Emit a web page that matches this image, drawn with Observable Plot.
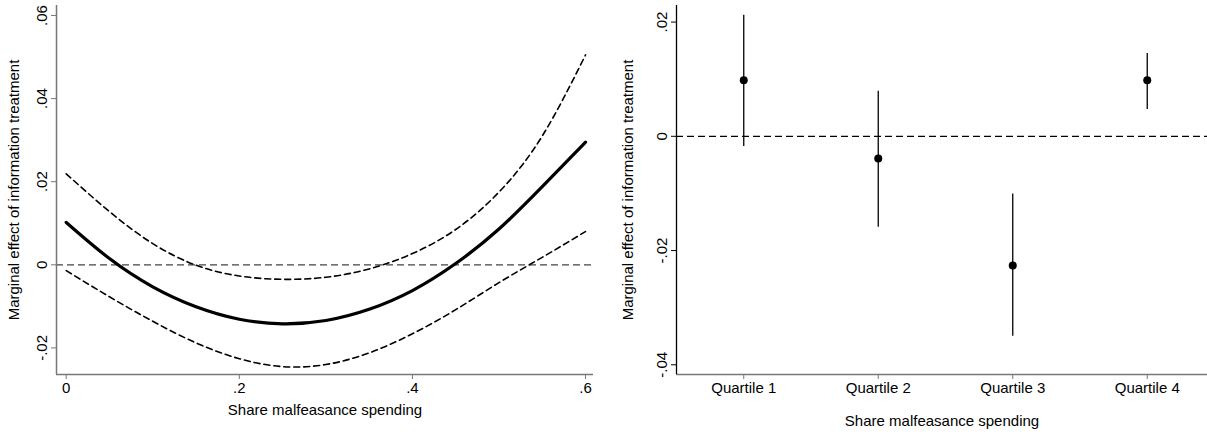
<!DOCTYPE html>
<html>
<head>
<meta charset="utf-8">
<script src="https://cdn.jsdelivr.net/npm/d3@7"></script>
<script src="https://cdn.jsdelivr.net/npm/@observablehq/plot@0.6"></script>
<style>
  html, body { margin: 0; padding: 0; background: #fff; overflow: hidden; }
  #wrap { position: relative; width: 1207px; height: 434px; }
  #left { position: absolute; left: 0; top: 0; }
  #right { position: absolute; left: 600px; top: 0; }
  svg { font-family: "Liberation Sans", Arial, sans-serif; }
</style>
</head>
<body>
<div id="wrap"><div id="left"></div><div id="right"></div></div>
<script>
// ---- Left panel data: marginal effect along share of malfeasance spending
const shareX   = [0, 0.05, 0.1, 0.15, 0.2, 0.25, 0.3, 0.35, 0.4, 0.45, 0.5, 0.55, 0.6];
const estimate = [0.0102, 0.0015, -0.0053, -0.0101, -0.0131, -0.0142, -0.0134, -0.0107, -0.0062, 0.0003, 0.0086, 0.0188, 0.0295];
const upperCI  = [0.0219, 0.0128, 0.0051, -0.0001, -0.0027, -0.0035, -0.0030, -0.0010, 0.0027, 0.0085, 0.0175, 0.0310, 0.0505];
const lowerCI  = [-0.0014, -0.0077, -0.0136, -0.0188, -0.0226, -0.0245, -0.0240, -0.0212, -0.0166, -0.0108, -0.0043, 0.0018, 0.0080];
const leftYTicks = [-0.02, 0, 0.02, 0.04, 0.06];
const leftXTicks = [0, 0.2, 0.4, 0.6];

// ---- Right panel data: by quartile
const quartiles  = ["Quartile 1", "Quartile 2", "Quartile 3", "Quartile 4"];
const qPos       = [1, 2, 3, 4];
const qEstimate  = [0.0098, -0.0039, -0.0226, 0.0098];
const qUpper     = [0.0212, 0.0079, -0.0101, 0.0145];
const qLower     = [-0.0018, -0.0159, -0.0350, 0.0047];
const rightYTicks = [-0.04, -0.02, 0, 0.02];

const yTitle = "Marginal effect of information treatment";
const xTitle = "Share malfeasance spending";

const fmt = d => d === 0 ? "0" : String(+d.toFixed(3)).replace(/^(-?)0\./, "$1.");
const FONT = 15;

const curveRows = shareX.map((x, i) => ({x, est: estimate[i], hi: upperCI[i], lo: lowerCI[i]}));

const leftYDomain = [-0.0264, 0.0624];
const leftXDomain = [-0.0112, 0.6092];

const left = Plot.plot({
  width: 600, height: 434,
  marginLeft: 56, marginRight: 7, marginTop: 5, marginBottom: 60,
  style: {fontSize: FONT + "px", fontFamily: "Liberation Sans, Arial, sans-serif", color: "#000"},
  x: {domain: leftXDomain, axis: null},
  y: {domain: leftYDomain, axis: null},
  marks: [
    Plot.ruleY([0], {stroke: "#444", strokeWidth: 1.3, strokeDasharray: "7,4"}),
    Plot.line(curveRows, {x: "x", y: "hi", stroke: "#000", strokeWidth: 1.6, strokeDasharray: "6,4", curve: "natural"}),
    Plot.line(curveRows, {x: "x", y: "lo", stroke: "#000", strokeWidth: 1.6, strokeDasharray: "6,4", curve: "natural"}),
    Plot.line(curveRows, {x: "x", y: "est", stroke: "#000", strokeWidth: 3.2, curve: "natural"}),
    Plot.ruleX([leftXDomain[0]], {stroke: "#777", strokeWidth: 1.5}),
    Plot.ruleY([leftYDomain[0]], {stroke: "#777", strokeWidth: 1.5}),
    Plot.axisY({ticks: leftYTicks, tickFormat: () => "", tickSize: 5, stroke: "#777", label: null}),
    Plot.axisX({ticks: leftXTicks, tickFormat: fmt, tickSize: 5, tickPadding: 3, stroke: "#777", color: "#000", fontSize: FONT, label: null}),
    Plot.text(leftYTicks, {y: d => d, text: d => fmt(d), frameAnchor: "left", dx: -14, rotate: -90, textAnchor: "middle", lineAnchor: "middle", fill: "#000", fontSize: FONT}),
    Plot.text([yTitle], {text: d => d, frameAnchor: "left", dx: -42, rotate: -90, textAnchor: "middle", lineAnchor: "middle", fill: "#000", fontSize: FONT}),
    Plot.text([xTitle], {text: d => d, frameAnchor: "bottom", dy: 36, textAnchor: "middle", lineAnchor: "middle", fill: "#000", fontSize: FONT})
  ]
});
document.getElementById("left").appendChild(left);

const qRows = qPos.map((p, i) => ({p, q: quartiles[i], est: qEstimate[i], hi: qUpper[i], lo: qLower[i]}));
const rightYDomain = [-0.0417, 0.0229];
const rightXDomain = [0.5, 4.448];

const right = Plot.plot({
  width: 607, height: 434,
  marginLeft: 76, marginRight: 0, marginTop: 5, marginBottom: 60,
  style: {fontSize: FONT + "px", fontFamily: "Liberation Sans, Arial, sans-serif", color: "#000"},
  x: {domain: rightXDomain, axis: null},
  y: {domain: rightYDomain, axis: null},
  marks: [
    Plot.ruleY([0], {stroke: "#000", strokeWidth: 1.3, strokeDasharray: "7,4"}),
    Plot.ruleX(qRows, {x: "p", y1: "lo", y2: "hi", stroke: "#000", strokeWidth: 1.3}),
    Plot.dot(qRows, {x: "p", y: "est", r: 4, fill: "#000", stroke: "none"}),
    Plot.ruleY([rightYDomain[0]], {stroke: "#777", strokeWidth: 1.5}),
    Plot.ruleX([rightXDomain[0]], {stroke: "#000", strokeWidth: 1.3}),
    Plot.axisY({ticks: rightYTicks, tickFormat: () => "", tickSize: 5, stroke: "#000", label: null}),
    Plot.axisX({ticks: qPos, tickFormat: d => quartiles[d - 1], tickSize: 5, tickPadding: 3, stroke: "#777", color: "#000", fontSize: FONT, label: null}),
    Plot.text(rightYTicks, {y: d => d, text: d => fmt(d), frameAnchor: "left", dx: -14, rotate: -90, textAnchor: "middle", lineAnchor: "middle", fill: "#000", fontSize: FONT}),
    Plot.text([yTitle], {text: d => d, frameAnchor: "left", dx: -48, rotate: -90, textAnchor: "middle", lineAnchor: "middle", fill: "#000", fontSize: FONT}),
    Plot.text([xTitle], {text: d => d, frameAnchor: "bottom", dy: 47, textAnchor: "middle", lineAnchor: "middle", fill: "#000", fontSize: FONT})
  ]
});
document.getElementById("right").appendChild(right);
</script>
</body>
</html>
